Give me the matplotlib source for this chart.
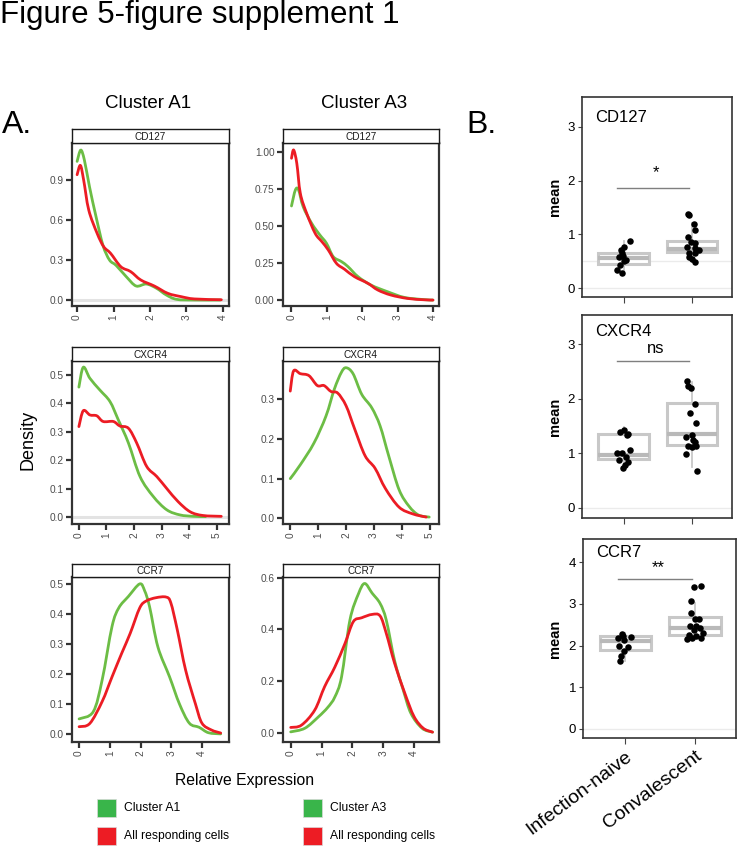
import matplotlib
matplotlib.use("Agg")
import matplotlib.pyplot as plt
from matplotlib.patches import Rectangle, PathPatch
from matplotlib.path import Path
import numpy as np

plt.rcParams['font.family'] = ['Liberation Sans', 'DejaVu Sans']

W, H = 738, 847
GREEN = '#6cbd45'
RED = '#ec1c24'
LEG_GREEN = '#39b54a'
LEG_RED = '#ed1c24'

# ---------------- Density data (A) ----------------
cd127_a1_green_x = [0.0, 0.1, 0.2, 0.34, 0.52, 0.71, 0.89, 1.07, 1.35, 1.62, 1.9, 2.18, 2.45, 2.73, 3.19, 3.93]
cd127_a1_green_y = [1.04, 1.125, 1.05, 0.85, 0.625, 0.41, 0.3, 0.26, 0.175, 0.105, 0.12, 0.088, 0.0375, 0.005, 0.0, 0.0]
cd127_a1_red_x = [0.0, 0.09, 0.18, 0.32, 0.55, 0.73, 0.92, 1.2, 1.47, 1.75, 2.12, 2.49, 2.86, 3.22, 3.96]
cd127_a1_red_y = [0.94, 1.01, 0.9, 0.675, 0.5, 0.4, 0.35, 0.25, 0.213, 0.15, 0.105, 0.05, 0.025, 0.008, 0.002]

cd127_a3_green_x = [0.0, 0.11, 0.2, 0.33, 0.57, 0.8, 0.99, 1.18, 1.41, 1.6, 1.88, 2.25, 2.72, 3.19, 3.75, 4.0]
cd127_a3_green_y = [0.635, 0.743, 0.743, 0.63, 0.518, 0.44, 0.383, 0.293, 0.26, 0.225, 0.158, 0.101, 0.056, 0.018, 0.003, 0.0]
cd127_a3_red_x = [0.0, 0.06, 0.15, 0.25, 0.43, 0.67, 0.86, 1.04, 1.27, 1.5, 1.78, 2.16, 2.44, 2.81, 3.28, 3.75, 4.0]
cd127_a3_red_y = [0.957, 1.013, 0.923, 0.72, 0.585, 0.45, 0.394, 0.338, 0.248, 0.208, 0.158, 0.113, 0.068, 0.034, 0.011, 0.002, 0.0]

cxcr4_a1_green_x = [0.0, 0.16, 0.4, 0.76, 1.13, 1.43, 1.8, 2.22, 2.7, 3.19, 3.67, 4.16, 4.6]
cxcr4_a1_green_y = [0.457, 0.527, 0.488, 0.447, 0.406, 0.342, 0.26, 0.142, 0.072, 0.025, 0.007, 0.002, 0.001]
cxcr4_a1_red_x = [0.0, 0.16, 0.4, 0.65, 0.88, 1.25, 1.49, 1.8, 2.1, 2.46, 2.83, 3.19, 3.6, 4.04, 4.5, 5.17]
cxcr4_a1_red_y = [0.318, 0.374, 0.359, 0.356, 0.336, 0.336, 0.32, 0.312, 0.26, 0.178, 0.142, 0.1, 0.054, 0.018, 0.005, 0.002]

cxcr4_a3_green_x = [0.0, 0.36, 0.85, 1.28, 1.58, 1.83, 2.0, 2.25, 2.56, 2.92, 3.22, 3.53, 3.9, 4.26, 4.6, 4.98]
cxcr4_a3_green_y = [0.1, 0.135, 0.19, 0.258, 0.326, 0.368, 0.38, 0.365, 0.313, 0.279, 0.233, 0.157, 0.072, 0.03, 0.008, 0.003]
cxcr4_a3_red_x = [0.0, 0.12, 0.36, 0.67, 0.97, 1.21, 1.46, 1.7, 2.0, 2.31, 2.68, 3.04, 3.41, 3.9, 4.39, 4.87]
cxcr4_a3_red_y = [0.321, 0.372, 0.365, 0.36, 0.335, 0.335, 0.32, 0.316, 0.284, 0.225, 0.158, 0.126, 0.075, 0.028, 0.011, 0.003]

ccr7_a1_green_x = [0.0, 0.46, 0.75, 1.07, 1.29, 1.6, 1.97, 2.13, 2.29, 2.56, 2.94, 3.26, 3.58, 3.9, 4.2, 4.6]
ccr7_a1_green_y = [0.05, 0.074, 0.18, 0.358, 0.42, 0.458, 0.5, 0.477, 0.424, 0.29, 0.19, 0.1, 0.036, 0.022, 0.004, 0.0]
ccr7_a1_red_x = [0.0, 0.35, 0.75, 1.07, 1.39, 1.66, 1.97, 2.18, 2.5, 2.83, 2.98, 3.19, 3.46, 3.78, 3.99, 4.3, 4.6]
ccr7_a1_red_y = [0.024, 0.035, 0.108, 0.19, 0.27, 0.335, 0.42, 0.443, 0.454, 0.456, 0.437, 0.347, 0.213, 0.1, 0.036, 0.013, 0.003]

ccr7_a3_green_x = [0.0, 0.46, 0.9, 1.2, 1.43, 1.65, 1.92, 2.2, 2.4, 2.64, 2.9, 3.1, 3.37, 3.65, 3.9, 4.26, 4.6]
ccr7_a3_green_y = [0.006, 0.02, 0.064, 0.1, 0.14, 0.218, 0.436, 0.538, 0.577, 0.54, 0.5, 0.436, 0.28, 0.167, 0.077, 0.02, 0.005]
ccr7_a3_red_x = [0.0, 0.35, 0.78, 1.1, 1.43, 1.76, 2.03, 2.3, 2.64, 2.9, 3.1, 3.37, 3.7, 4.0, 4.3, 4.6]
ccr7_a3_red_y = [0.023, 0.032, 0.09, 0.18, 0.255, 0.346, 0.43, 0.445, 0.458, 0.452, 0.385, 0.27, 0.155, 0.065, 0.02, 0.005]

# tick labels
cd127_a1_yticks = [0.0, 0.3, 0.6, 0.9]
cd127_a1_ylabels = ['0.0', '0.3', '0.6', '0.9']
cd127_a3_yticks = [0.0, 0.25, 0.5, 0.75, 1.0]
cd127_a3_ylabels = ['0.00', '0.25', '0.50', '0.75', '1.00']
cxcr4_a1_yticks = [0.0, 0.1, 0.2, 0.3, 0.4, 0.5]
cxcr4_a1_ylabels = ['0.0', '0.1', '0.2', '0.3', '0.4', '0.5']
cxcr4_a3_yticks = [0.0, 0.1, 0.2, 0.3]
cxcr4_a3_ylabels = ['0.0', '0.1', '0.2', '0.3']
ccr7_a1_yticks = [0.0, 0.1, 0.2, 0.3, 0.4, 0.5]
ccr7_a1_ylabels = ['0.0', '0.1', '0.2', '0.3', '0.4', '0.5']
ccr7_a3_yticks = [0.0, 0.2, 0.4, 0.6]
ccr7_a3_ylabels = ['0.0', '0.2', '0.4', '0.6']
xticks_0_4 = [0, 1, 2, 3, 4]
xticks_0_5 = [0, 1, 2, 3, 4, 5]

# ---------------- Box plot data (B) ----------------
groups = ['Infection-naive', 'Convalescent']
markers_b = ['CD127', 'CXCR4', 'CCR7']
sig_labels = ['*', 'ns', '**']

cd127_naive_x = [1.09, 1.0, 0.96, 0.99, 0.93, 1.0, 0.95, 0.9, 0.97, 1.03, 0.98]
cd127_naive_y = [0.88, 0.77, 0.71, 0.6, 0.59, 0.51, 0.43, 0.34, 0.29, 0.52, 0.65]
cd127_conv_x = [1.95, 1.96, 2.03, 2.04, 1.95, 1.99, 2.05, 1.93, 2.05, 2.1, 1.96, 2.05, 1.96, 2.0, 2.05]
cd127_conv_y = [1.38, 1.37, 1.2, 1.09, 0.96, 0.86, 0.85, 0.77, 0.74, 0.71, 0.66, 0.65, 0.59, 0.55, 0.49]
cxcr4_naive_x = [1.0, 1.06, 0.95, 1.05, 0.91, 0.98, 1.09, 1.04, 0.93, 1.07, 1.02, 0.99]
cxcr4_naive_y = [1.43, 1.36, 1.39, 1.33, 1.0, 1.0, 1.06, 0.94, 0.87, 0.84, 0.78, 0.72]
cxcr4_conv_x = [1.93, 1.95, 1.99, 2.04, 1.98, 2.06, 1.92, 2.0, 2.02, 1.95, 2.0, 2.06, 1.92, 2.05, 2.08]
cxcr4_conv_y = [2.32, 2.23, 2.19, 1.9, 1.74, 1.56, 1.3, 1.34, 1.24, 1.14, 1.12, 1.14, 0.99, 1.2, 0.67]
ccr7_naive_x = [0.97, 0.9, 0.98, 1.08, 0.91, 1.03, 0.98, 0.93, 0.92, 0.95]
ccr7_naive_y = [2.24, 2.18, 2.13, 2.21, 1.98, 1.97, 1.86, 1.76, 1.62, 2.28]
ccr7_conv_x = [1.99, 2.09, 1.94, 1.94, 2.06, 2.0, 1.93, 2.02, 1.98, 2.07, 1.91, 1.96, 2.02, 2.09, 1.89, 2.11]
ccr7_conv_y = [3.4, 3.44, 3.06, 2.78, 2.63, 2.63, 2.46, 2.48, 2.38, 2.42, 2.26, 2.18, 2.22, 2.18, 2.17, 2.3]

# box stats [q1, med, q3, whislo, whishi]
cd127_naive_box = [0.46, 0.56, 0.66, 0.29, 0.88]
cd127_conv_box = [0.67, 0.73, 0.88, 0.49, 1.21]
cxcr4_naive_box = [0.89, 0.97, 1.35, 0.72, 1.48]
cxcr4_conv_box = [1.16, 1.36, 1.92, 0.75, 2.31]
ccr7_naive_box = [1.9, 2.12, 2.22, 1.62, 2.3]
ccr7_conv_box = [2.26, 2.42, 2.68, 2.17, 3.02]

sig_bar_y = [1.87, 2.69, 3.61]
sig_text_y = [2.0, 2.78, 3.7]

# ---------------- Figure ----------------
fig = plt.figure(figsize=(W / 100, H / 100), dpi=100)


def rect(l, t, r, b):
    return [l / W, 1 - b / H, (r - l) / W, (b - t) / H]


def ftext(x, y, s, **kw):
    fig.text(x / W, 1 - y / H, s, **kw)


def smooth_curve(ax, x, y, color, z):
    # cubic Bezier path through the read points (drawn in data coordinates)
    pts = np.column_stack([x, y]).astype(float)
    verts = [pts[0]]
    codes = [Path.MOVETO]
    n = len(pts)
    for i in range(n - 1):
        p0 = pts[i - 1] if i > 0 else pts[i]
        p1 = pts[i]
        p2 = pts[i + 1]
        p3 = pts[i + 2] if i + 2 < n else pts[i + 1]
        c1 = p1 + (p2 - p0) / 6.0
        c2 = p2 - (p3 - p1) / 6.0
        verts += [c1, c2, p2]
        codes += [Path.CURVE4] * 3
    patch = PathPatch(Path(verts, codes), facecolor='none', edgecolor=color, lw=2.0,
                      joinstyle='round', capstyle='round', zorder=z)
    ax.add_patch(patch)


def density_panel(box, strip_top, title, gx, gy, rx, ry, xlim, ylim, yt, ytl, xt, zero_line):
    l, t, r, b = box
    ax = fig.add_axes(rect(l, t, r, b))
    if zero_line:
        ax.axhline(0, color='#e3e3e3', lw=2.2, zorder=0)
    smooth_curve(ax, gx, gy, GREEN, 3)
    smooth_curve(ax, rx, ry, RED, 4)
    ax.set_xlim(*xlim)
    ax.set_ylim(*ylim)
    ax.set_yticks(yt)
    ax.set_yticklabels(ytl)
    ax.set_xticks(xt)
    ax.set_xticklabels([str(v) for v in xt], rotation=90)
    for sp in ax.spines.values():
        sp.set_linewidth(1.6)
        sp.set_color('#333333')
    ax.tick_params(length=4, width=1.6, color='#333333', labelsize=7.3,
                   labelcolor='#4d4d4d', pad=2)
    # strip
    sax = fig.add_axes(rect(l, strip_top, r, t))
    sax.set_xticks([])
    sax.set_yticks([])
    for sp in sax.spines.values():
        sp.set_linewidth(1.0)
        sp.set_color('#1a1a1a')
    sax.text(0.5, 0.45, title, ha='center', va='center', fontsize=7.2, color='#1a1a1a',
             transform=sax.transAxes)
    return ax


A1L, A1R = 72, 229
A3L, A3R = 283, 439

density_panel((A1L, 143, A1R, 306), 129, 'CD127', cd127_a1_green_x, cd127_a1_green_y,
              cd127_a1_red_x, cd127_a1_red_y, (-0.14, 4.17), (-0.045, 1.178),
              cd127_a1_yticks, cd127_a1_ylabels, xticks_0_4, True)
density_panel((A3L, 143, A3R, 306), 129, 'CD127', cd127_a3_green_x, cd127_a3_green_y,
              cd127_a3_red_x, cd127_a3_red_y, (-0.24, 4.17), (-0.04, 1.06),
              cd127_a3_yticks, cd127_a3_ylabels, xticks_0_4, False)
density_panel((A1L, 361, A1R, 524), 347, 'CXCR4', cxcr4_a1_green_x, cxcr4_a1_green_y,
              cxcr4_a1_red_x, cxcr4_a1_red_y, (-0.25, 5.45), (-0.025, 0.549),
              cxcr4_a1_yticks, cxcr4_a1_ylabels, xticks_0_5, True)
density_panel((A3L, 361, A3R, 524), 347, 'CXCR4', cxcr4_a3_green_x, cxcr4_a3_green_y,
              cxcr4_a3_red_x, cxcr4_a3_red_y, (-0.26, 5.33), (-0.0145, 0.397),
              cxcr4_a3_yticks, cxcr4_a3_ylabels, xticks_0_5, False)
density_panel((A1L, 577, A1R, 742), 564, 'CCR7', ccr7_a1_green_x, ccr7_a1_green_y,
              ccr7_a1_red_x, ccr7_a1_red_y, (-0.23, 4.87), (-0.027, 0.523),
              ccr7_a1_yticks, ccr7_a1_ylabels, xticks_0_4, False)
density_panel((A3L, 577, A3R, 742), 564, 'CCR7', ccr7_a3_green_x, ccr7_a3_green_y,
              ccr7_a3_red_x, ccr7_a3_red_y, (-0.25, 4.81), (-0.033, 0.602),
              ccr7_a3_yticks, ccr7_a3_ylabels, xticks_0_4, False)

# ---------------- Panel B ----------------
b_boxes = [(582, 97, 732, 297), (582, 315, 732, 518), (583, 539, 736, 738)]
b_ylims = [(-0.16, 3.55), (-0.19, 3.54), (-0.22, 4.56)]
b_yticks = [[0, 1, 2, 3], [0, 1, 2, 3], [0, 1, 2, 3, 4]]
b_pts = [
    (cd127_naive_x, cd127_naive_y, cd127_conv_x, cd127_conv_y),
    (cxcr4_naive_x, cxcr4_naive_y, cxcr4_conv_x, cxcr4_conv_y),
    (ccr7_naive_x, ccr7_naive_y, ccr7_conv_x, ccr7_conv_y),
]
b_stats = [
    (cd127_naive_box, cd127_conv_box),
    (cxcr4_naive_box, cxcr4_conv_box),
    (ccr7_naive_box, ccr7_conv_box),
]
b_extra_lines = [[0, 0.5], [0], [0]]
b_label_y = [0.90, 0.918, 0.93]

for i in range(3):
    l, t, r, b = b_boxes[i]
    ax = fig.add_axes(rect(l, t, r, b))
    for yl in b_extra_lines[i]:
        ax.axhline(yl, color='#ebebeb', lw=1.0, zorder=0)
    stats = []
    for s in b_stats[i]:
        stats.append(dict(q1=s[0], med=s[1], q3=s[2], whislo=s[3], whishi=s[4], fliers=[]))
    ax.bxp(stats, positions=[1, 2], widths=0.74, showfliers=False, showcaps=False,
           patch_artist=True,
           boxprops=dict(facecolor='white', edgecolor='#c8c8c8', linewidth=2.2),
           medianprops=dict(color='#b9b9b9', linewidth=3.0),
           whiskerprops=dict(color='#c8c8c8', linewidth=1.3))
    nx, ny, cx, cy = b_pts[i]
    ax.scatter(nx, ny, s=22, color='black', zorder=5, linewidths=0)
    ax.scatter(cx, cy, s=22, color='black', zorder=5, linewidths=0)
    ax.plot([0.9, 1.96], [sig_bar_y[i], sig_bar_y[i]], color='#7f7f7f', lw=1.0)
    ax.text(1.47, sig_text_y[i], sig_labels[i], ha='center', va='bottom', fontsize=12)
    ax.text(13.0 / (r - l), b_label_y[i], markers_b[i], transform=ax.transAxes,
            fontsize=12, ha='left', va='center')
    ax.set_xlim(0.39, 2.59)
    ax.set_ylim(*b_ylims[i])
    ax.set_yticks(b_yticks[i])
    ax.set_yticklabels([str(v) for v in b_yticks[i]])
    ax.set_xticks([1, 2])
    if i == 2:
        ax.set_xticklabels(groups, rotation=37, ha='right', rotation_mode='anchor', fontsize=14)
    else:
        ax.set_xticklabels(['', ''])
    ax.tick_params(axis='y', length=3, width=0.8, color='#444444', labelsize=9.5, pad=2)
    ax.tick_params(axis='x', length=4, width=0.8, color='#444444', pad=3)
    for sp in ax.spines.values():
        sp.set_linewidth(1.2)
        sp.set_color('#333333')
    ftext(555, (t + b) / 2, 'mean', rotation=90, ha='center', va='center',
          fontsize=10.5, fontweight='bold')

# ---------------- Texts ----------------
ftext(0, 23, 'Figure 5-figure supplement 1', fontsize=22.5, ha='left', va='baseline')
ftext(2, 133, 'A.', fontsize=23, ha='left', va='baseline')
ftext(466, 133, 'B.', fontsize=23, ha='left', va='baseline')
ftext(148, 104, 'Cluster A1', fontsize=13.5, ha='center', va='center')
ftext(364, 104, 'Cluster A3', fontsize=13.5, ha='center', va='center')
ftext(28, 440, 'Density', fontsize=13, rotation=90, ha='center', va='center')
ftext(245, 780, 'Relative Expression', fontsize=11.3, ha='center', va='center')

# Legends
legend_labels_left = ['Cluster A1', 'All responding cells']
legend_labels_right = ['Cluster A3', 'All responding cells']
legend_colors = [LEG_GREEN, LEG_RED]
legend_y = [808, 836]
for x0, labs in [(97, legend_labels_left), (303, legend_labels_right)]:
    for lab, col, yc in zip(labs, legend_colors, legend_y):
        fig.patches.append(Rectangle((x0 / W, 1 - (yc + 9) / H), 19 / W, 18 / H,
                                     transform=fig.transFigure, facecolor=col,
                                     edgecolor='#d9d9d9', lw=0.5))
        ftext(x0 + 27, yc, lab, fontsize=8.7, ha='left', va='center')

fig.savefig('out.png', dpi=100)
